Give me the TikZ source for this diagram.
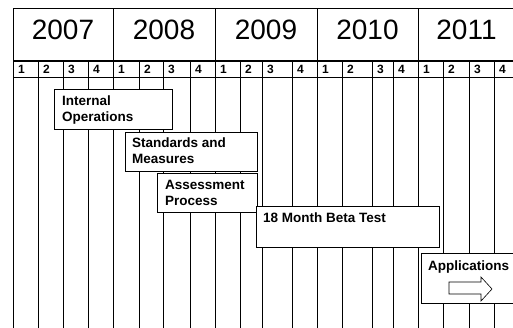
\documentclass[tikz,border=0pt]{standalone}
\usepackage{fontspec}
\setmainfont{Liberation Sans}
\usetikzlibrary{positioning}
\tikzset{
    grid/.style = {
        draw,
        line width = 1pt
    },
    year/.style = {
        font = \fontsize{28}{28}\selectfont,
        anchor = base,
        inner sep = 0pt
    },
    quarter/.style = {
        font = \bfseries\fontsize{12}{12}\selectfont,
        anchor = base west,
        inner sep = 0pt
    },
    task/.style = {
        draw,
        fill = white,
        line width = 1pt,
        inner sep = 0pt,
        anchor = north west
    },
    task text/.style = {
        font = \bfseries\fontsize{13.5}{16}\selectfont,
        align = left,
        anchor = north west,
        inner sep = 0pt
    }
}

\begin{document}
\begin{tikzpicture}[x=1pt, y=-1pt]
    \clip (0,0) rectangle (513,328);
    \fill[white] (0,0) rectangle (513,328);
    % frame and year row
    \draw[grid] (13,328) -- (13,9) -- (520,9);
    \foreach \x in {113, 215, 317, 418}{
        \draw[grid] (\x,9) -- (\x,61);
    }
    \foreach \c/\yr in {63/2007, 164/2008, 266/2009, 367.5/2010, 466.5/2011}{
        \node[year] (y\yr) at (\c,40) {\yr};
    }
    \draw[grid, line width=2.5pt] (13,61) -- (520,61);
    \draw[grid] (13,78) -- (520,78);
    % quarters
    \foreach \x/\q in {13/1, 38/2, 63/3, 88/4, 113/1, 139/2, 163/3, 190/4,
                       215/1, 240/2, 262/3, 292/4, 317/1, 342/2, 372/3, 393/4,
                       418/1, 443/2, 469/3, 494/4}{
        \draw[grid] (\x,61) -- (\x,328);
        \node[quarter] (q\x) at (\x+5,73.5) {\q};
    }
    % tasks
    \node[task, minimum width=118pt, minimum height=40pt] (internal) at (54,89) {};
    \node[task text, below right=7pt and 8pt of internal.north west] (internaltext) {Internal\\Operations};
    \node[task, minimum width=132pt, minimum height=39pt] (standards) at (125,132) {};
    \node[task text, below right=6pt and 7pt of standards.north west] (standardstext) {Standards and\\Measures};
    \node[task, minimum width=100pt, minimum height=39pt] (assessment) at (157,173) {};
    \node[task text, below right=7pt and 8pt of assessment.north west] (assessmenttext) {Assessment\\Process};
    \node[task, minimum width=183pt, minimum height=41pt] (beta) at (256,206) {};
    \node[task text, below right=7pt and 7pt of beta.north west] (betatext) {18 Month Beta Test};
    \node[task, minimum width=100pt, minimum height=50pt] (applications) at (421,253) {};
    \node[task text, below right=7.5pt and 7pt of applications.north west] (applicationstext) {Applications};
    \draw[line width=0.6pt, fill=white] (449,282) -- (481,282) -- (481,277) -- (492,289)
        -- (481,301) -- (481,294) -- (449,294) -- cycle;
\end{tikzpicture}
\end{document}
